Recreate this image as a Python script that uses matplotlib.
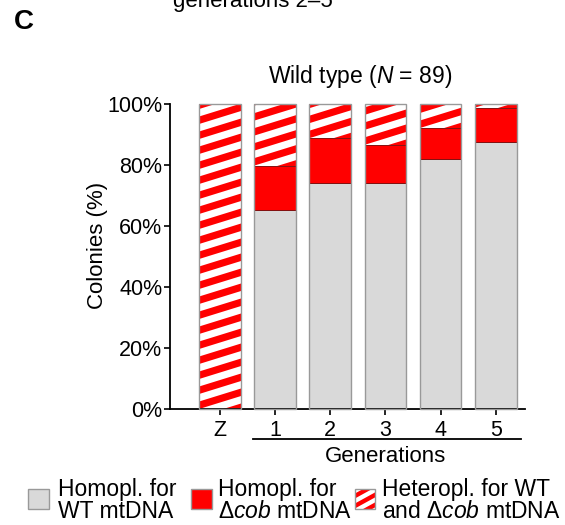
import numpy as np
import matplotlib
matplotlib.use("Agg")
import matplotlib.pyplot as plt
import matplotlib.transforms as mtransforms
from matplotlib.patches import Polygon, Rectangle

plt.rcParams['font.family'] = ['Liberation Sans', 'DejaVu Sans']
plt.rcParams['mathtext.fontset'] = 'custom'
plt.rcParams['mathtext.rm'] = 'Liberation Sans'
plt.rcParams['mathtext.it'] = 'Liberation Sans:italic'

# data (% of colonies)
labels = ['Z', '1', '2', '3', '4', '5']
homo_wt = [0, 65.2, 74.2, 74.2, 82.0, 87.6]
homo_dcob = [0, 14.6, 14.6, 12.4, 10.1, 11.2]
hetero = [100, 20.2, 11.2, 13.4, 7.9, 1.2]
yticks = [0, 20, 40, 60, 80, 100]

W, H = 565, 525
GRAY = '#d9d9d9'
EDGE = '#999999'
RED = '#ff0000'


def fx(px):
    return px / W


def fy(py):
    return 1 - py / H


def add_stripes(parent, clip, period, slope, frac=0.5):
    # red diagonal stripes on white, clipped to the given patch
    bb = clip.get_window_extent()
    x0, y0, x1, y1 = bb.x0 - 1, bb.y0, bb.x1 + 1, bb.y1
    w = x1 - x0
    for k in range(-int(slope * w / period) - 2, int((y1 - y0) / period) + 2):
        b = y0 + k * period
        verts = [(x0, b), (x1, b + slope * w),
                 (x1, b + slope * w + frac * period), (x0, b + frac * period)]
        p = Polygon(verts, closed=True, facecolor=RED, edgecolor='none',
                    transform=mtransforms.IdentityTransform())
        parent.add_artist(p)
        p.set_clip_path(clip)


fig = plt.figure(figsize=(W / 100, H / 100), dpi=100)
ax = fig.add_axes([fx(170), fy(409.3), fx(525 - 170), 305 / H])

pos = np.arange(len(labels))
ax.set_xlim(-0.907, 5.53)
ax.set_ylim(0, 100)
bw = 0.757

wt = np.array(homo_wt)
dc = np.array(homo_dcob)
he = np.array(hetero)

ax.bar(pos, wt, bw, color=GRAY, edgecolor='none', clip_on=False)
ax.bar(pos, dc, bw, bottom=wt, color=RED, edgecolor='#700000',
       linewidth=0.6, clip_on=False)
het_bars = ax.bar(pos, he, bw, bottom=wt + dc, color='white',
                  edgecolor='none', clip_on=False)
for r in het_bars:
    add_stripes(ax, r, period=15, slope=0.31, frac=0.5)
ax.bar(pos, wt + dc + he, bw, facecolor='none', edgecolor=EDGE,
       linewidth=1.0, clip_on=False, zorder=3)

for s in ['top', 'right']:
    ax.spines[s].set_visible(False)
for s in ['left', 'bottom']:
    ax.spines[s].set_linewidth(1.3)

ax.set_yticks(yticks)
ax.set_yticklabels([f'{v}%' for v in yticks])
ax.set_xticks(pos)
ax.set_xticklabels(labels)
ax.tick_params(axis='y', length=4, width=1.2, pad=1.5, labelsize=15.5)
ax.tick_params(axis='x', length=4.5, width=1.2, pad=3, labelsize=15.5)

# generations bracket
trans = mtransforms.blended_transform_factory(ax.transData, ax.transAxes)
ax.plot([pos[1] - 0.4, pos[-1] + 0.45], [-0.097, -0.097], color='black',
        linewidth=1.3, transform=trans, clip_on=False)
ax.text(pos[1:].mean(), -0.173, 'Generations', transform=trans,
        ha='center', va='baseline', fontsize=16)

fig.text(fx(97), fy(245), 'Colonies (%)', rotation=90, ha='center',
         va='center', fontsize=16)
fig.text(fx(360), fy(83), 'Wild type ($N$ = 89)', ha='center',
         va='baseline', fontsize=16.5)
fig.text(fx(14), fy(29), 'C', ha='left', va='baseline', fontsize=20,
         fontweight='bold')
fig.text(fx(253), fy(7), 'generations 2\u20135', ha='center', va='baseline',
         fontsize=16)

# legend
legend_items = [
    (GRAY, 'Homopl. for\nWT mtDNA', 28, 58),
    (RED, 'Homopl. for\n$\\Delta\\mathit{cob}$ mtDNA', 191, 218),
    ('stripes', 'Heteropl. for WT\nand $\\Delta\\mathit{cob}$ mtDNA', 355, 382),
]
for color, label, sx, tx in legend_items:
    if color == 'stripes':
        sw = Rectangle((fx(sx), fy(509)), fx(20), 20 / H, facecolor='white',
                       edgecolor='none', transform=fig.transFigure)
        fig.add_artist(sw)
        add_stripes(fig, sw, period=10, slope=0.55, frac=0.5)
        fig.add_artist(Rectangle((fx(sx), fy(509)), fx(20), 20 / H,
                                 facecolor='none', edgecolor=EDGE,
                                 linewidth=1.0, transform=fig.transFigure))
    else:
        fig.add_artist(Rectangle((fx(sx), fy(509)), fx(21), 20 / H,
                                 facecolor=color, edgecolor=EDGE,
                                 linewidth=1.0, transform=fig.transFigure))
    fig.text(fx(tx), fy(478), label, ha='left', va='top', fontsize=16.5,
             linespacing=0.93)

fig.savefig('out.png', dpi=100)
